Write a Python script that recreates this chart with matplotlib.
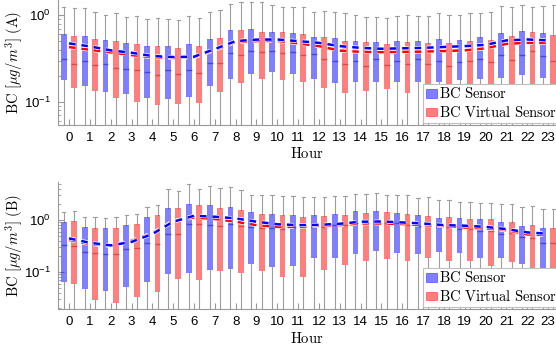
import numpy as np
import matplotlib
matplotlib.use("Agg")
import matplotlib.pyplot as plt
from matplotlib.patches import Patch
from matplotlib.ticker import FixedLocator, LogLocator, NullFormatter
import matplotlib.patheffects as pe

plt.rcParams["mathtext.fontset"] = "cm"
plt.rcParams["font.family"] = ["Liberation Sans", "DejaVu Sans"]

hours = list(range(24))

# panel A - hourly box stats, BC sensor
a_sen_q1 = [0.178, 0.154, 0.130, 0.123, 0.112, 0.109, 0.113, 0.151, 0.185, 0.208, 0.221, 0.208,
            0.185, 0.167, 0.171, 0.170, 0.171, 0.171, 0.168, 0.179, 0.185, 0.187, 0.203, 0.190]
a_sen_med = [0.310, 0.294, 0.271, 0.239, 0.221, 0.231, 0.231, 0.281, 0.363, 0.386, 0.382, 0.376,
             0.356, 0.300, 0.296, 0.310, 0.300, 0.310, 0.300, 0.286, 0.310, 0.347, 0.347, 0.338]
a_sen_q3 = [0.600, 0.574, 0.516, 0.473, 0.440, 0.437, 0.461, 0.530, 0.672, 0.690, 0.633, 0.620,
            0.555, 0.540, 0.500, 0.485, 0.503, 0.510, 0.530, 0.516, 0.555, 0.620, 0.665, 0.620]
a_sen_hi = [1.23, 1.20, 1.01, 0.956, 0.916, 0.916, 0.99, 1.09, 1.36, 1.44, 1.33, 1.23,
            1.10, 1.10, 1.00, 0.955, 0.99, 0.97, 1.05, 1.02, 1.07, 1.28, 1.33, 1.27]
a_sen_mean = [0.473, 0.437, 0.393, 0.369, 0.338, 0.329, 0.332, 0.407, 0.503, 0.523, 0.525, 0.503,
              0.480, 0.440, 0.420, 0.410, 0.415, 0.420, 0.430, 0.440, 0.455, 0.512, 0.525, 0.512]

# panel A - BC virtual sensor
a_vir_q1 = [0.144, 0.133, 0.112, 0.099, 0.093, 0.0956, 0.098, 0.130, 0.167, 0.184, 0.180, 0.170,
            0.146, 0.126, 0.134, 0.139, 0.126, 0.145, 0.137, 0.145, 0.145, 0.145, 0.153, 0.153]
a_vir_med = [0.271, 0.264, 0.248, 0.235, 0.203, 0.208, 0.214, 0.281, 0.347, 0.373, 0.363, 0.347,
             0.314, 0.271, 0.257, 0.264, 0.273, 0.275, 0.260, 0.300, 0.288, 0.304, 0.382, 0.294]
a_vir_q3 = [0.574, 0.530, 0.499, 0.461, 0.437, 0.414, 0.440, 0.544, 0.678, 0.640, 0.638, 0.600,
            0.555, 0.500, 0.485, 0.460, 0.485, 0.473, 0.477, 0.500, 0.516, 0.578, 0.633, 0.593]
a_vir_hi = [1.20, 1.10, 1.07, 0.99, 0.941, 0.892, 0.94, 1.16, 1.44, 1.42, 1.23, 1.23,
            1.13, 1.05, 0.955, 0.94, 1.00, 0.99, 1.02, 1.06, 1.10, 1.23, 1.26, 1.30]
a_vir_mean = [0.429, 0.399, 0.373, 0.347, 0.327, 0.321, 0.327, 0.396, 0.490, 0.503, 0.506, 0.473,
              0.440, 0.390, 0.378, 0.375, 0.378, 0.380, 0.386, 0.393, 0.415, 0.468, 0.480, 0.480]

# panel B - BC sensor
b_sen_q1 = [0.065, 0.047, 0.044, 0.051, 0.064, 0.093, 0.097, 0.109, 0.116, 0.140, 0.127, 0.130,
            0.190, 0.190, 0.220, 0.260, 0.235, 0.220, 0.246, 0.235, 0.183, 0.183, 0.142, 0.088]
b_sen_med = [0.33, 0.24, 0.22, 0.277, 0.356, 0.53, 0.83, 0.79, 0.83, 0.74, 0.71, 0.74,
             0.73, 0.80, 0.89, 0.90, 0.86, 0.77, 0.74, 0.67, 0.61, 0.53, 0.465, 0.366]
b_sen_q3 = [0.93, 0.74, 0.69, 0.80, 1.13, 1.70, 2.03, 1.94, 1.78, 1.41, 1.30, 1.25,
            1.25, 1.30, 1.49, 1.49, 1.38, 1.23, 1.11, 1.11, 1.03, 0.93, 0.78, 0.69]
b_sen_hi = [1.44, 1.13, 1.08, 1.23, 1.76, 4.0, 4.85, 4.5, 4.25, 3.1, 3.0, 2.93,
            2.73, 2.9, 3.16, 3.26, 3.0, 2.68, 2.42, 2.25, 2.1, 2.03, 1.76, 1.6]
b_sen_mean = [0.445, 0.366, 0.326, 0.38, 0.54, 0.93, 1.21, 1.16, 1.08, 0.93, 0.83, 0.80,
              0.81, 0.85, 0.93, 0.94, 0.90, 0.86, 0.80, 0.78, 0.74, 0.67, 0.58, 0.545]

# panel B - BC virtual sensor
b_vir_q1 = [0.058, 0.0286, 0.025, 0.0335, 0.042, 0.074, 0.071, 0.106, 0.097, 0.106, 0.079, 0.081,
            0.109, 0.134, 0.165, 0.175, 0.165, 0.190, 0.165, 0.165, 0.130, 0.154, 0.109, 0.077]
b_vir_med = [0.32, 0.23, 0.22, 0.29, 0.34, 0.53, 0.83, 0.77, 0.77, 0.69, 0.67, 0.74,
             0.74, 0.80, 0.86, 0.89, 0.80, 0.77, 0.74, 0.67, 0.61, 0.555, 0.445, 0.366]
b_vir_q3 = [0.96, 0.71, 0.72, 0.85, 1.25, 1.72, 1.92, 1.70, 1.56, 1.30, 1.25, 1.16,
            1.19, 1.25, 1.38, 1.44, 1.30, 1.21, 1.13, 1.05, 1.05, 0.92, 0.80, 0.69]
b_vir_hi = [1.49, 1.13, 1.13, 1.30, 1.94, 3.6, 3.9, 4.07, 3.8, 3.1, 2.93, 2.73,
            2.73, 2.9, 3.16, 3.0, 3.0, 2.73, 2.42, 2.25, 2.1, 2.03, 1.86, 1.6]
b_vir_mean = [0.418, 0.345, 0.32, 0.40, 0.56, 0.96, 1.12, 1.05, 0.93, 0.80, 0.74, 0.74,
              0.78, 0.80, 0.86, 0.86, 0.84, 0.80, 0.77, 0.72, 0.69, 0.64, 0.53, 0.515]

whisker_low = 0.005  # lower whiskers run off the bottom of both panels

BLUE = (0, 0, 1)
RED = (1, 0, 0)


def draw_boxes(ax, pos, q1, med, q3, hi, color):
    stats = []
    for i in range(len(pos)):
        stats.append(dict(med=med[i], q1=q1[i], q3=q3[i],
                          whislo=whisker_low, whishi=hi[i], fliers=[]))
    ax.bxp(stats, positions=pos, widths=0.28, capwidths=0.16,
           patch_artist=True, showfliers=False, manage_ticks=False,
           boxprops=dict(facecolor=color + (0.5,), edgecolor="none", zorder=2),
           medianprops=dict(color=tuple(c * 0.8 for c in color) + (0.45,), lw=1, zorder=3),
           whiskerprops=dict(color="0.62", lw=0.8, zorder=1),
           capprops=dict(color="0.62", lw=0.8, zorder=1))


def draw_panel(ax, sen, vir, ylim, letter, legend_y):
    x = np.array(hours)
    draw_boxes(ax, x - 0.25, *sen[:4], BLUE)
    draw_boxes(ax, x + 0.25, *vir[:4], RED)
    stroke = [pe.withStroke(linewidth=2.8, foreground="white")]
    ax.plot(x, sen[4], color="blue", lw=1.8, dashes=(2.6, 2.4), zorder=5, path_effects=stroke)
    ax.plot(x, vir[4], color="red", lw=1.8, dashes=(2.6, 2.4), zorder=4, path_effects=stroke)

    ax.set_yscale("log")
    ax.set_ylim(*ylim)
    ax.set_xlim(-0.53, 23.38)
    ax.set_xticks(hours)
    ax.set_xticklabels([str(h) for h in hours])
    ax.xaxis.set_minor_locator(FixedLocator(list(x - 0.25) + list(x + 0.25)))
    ax.yaxis.set_minor_locator(LogLocator(base=10, subs=np.arange(2, 10)))
    ax.yaxis.set_minor_formatter(NullFormatter())
    ax.tick_params(which="both", direction="in", color="0.6", labelsize=9.5)
    ax.tick_params(axis="x", which="major", length=4, pad=5)
    ax.tick_params(axis="x", which="minor", length=2)
    ax.tick_params(axis="y", which="major", length=4, pad=5)
    ax.tick_params(axis="y", which="minor", length=2)
    for s in ["top", "right"]:
        ax.spines[s].set_visible(False)
    for s in ["left", "bottom"]:
        ax.spines[s].set_color("0.6")
        ax.spines[s].set_linewidth(0.8)

    ax.set_ylabel(r"$\mathrm{BC}\ [\mu g/m^3]\ \mathrm{(" + letter + ")}$", fontsize=10.5)
    ax.yaxis.set_label_coords(-0.066, 0.5)
    ax.set_xlabel(r"$\mathrm{Hour}$", fontsize=10.5)
    ax.xaxis.set_label_coords(0.5, -0.17)

    handles = [Patch(facecolor=BLUE + (0.5,), edgecolor=BLUE + (0.5,), lw=0.6),
               Patch(facecolor=RED + (0.5,), edgecolor=RED + (0.5,), lw=0.6)]
    leg = ax.legend(handles, [r"$\mathrm{BC\ Sensor}$", r"$\mathrm{BC\ Virtual\ Sensor}$"],
                    loc="lower left", bbox_to_anchor=(423 / 556, legend_y),
                    bbox_transform=ax.figure.transFigure, fontsize=10.5,
                    fancybox=False, framealpha=1, edgecolor="0.75",
                    handlelength=0.75, handleheight=0.55, handletextpad=0.15,
                    borderpad=0.2, labelspacing=0.25, borderaxespad=0)
    leg.get_frame().set_linewidth(0.8)
    leg.set_zorder(10)


fig = plt.figure(figsize=(5.56, 3.49), dpi=100)
ax_a = fig.add_axes([58 / 556, 224 / 349, 498 / 556, 125 / 349])
ax_b = fig.add_axes([58 / 556, 40 / 349, 498 / 556, 127 / 349])

draw_panel(ax_a,
           [a_sen_q1, a_sen_med, a_sen_q3, a_sen_hi, a_sen_mean],
           [a_vir_q1, a_vir_med, a_vir_q3, a_vir_hi, a_vir_mean],
           (0.054, 1.5), "A", (349 - 123) / 349)
draw_panel(ax_b,
           [b_sen_q1, b_sen_med, b_sen_q3, b_sen_hi, b_sen_mean],
           [b_vir_q1, b_vir_med, b_vir_q3, b_vir_hi, b_vir_mean],
           (0.0195, 5.4), "B", (349 - 307) / 349)

fig.savefig("out.png", dpi=100)
